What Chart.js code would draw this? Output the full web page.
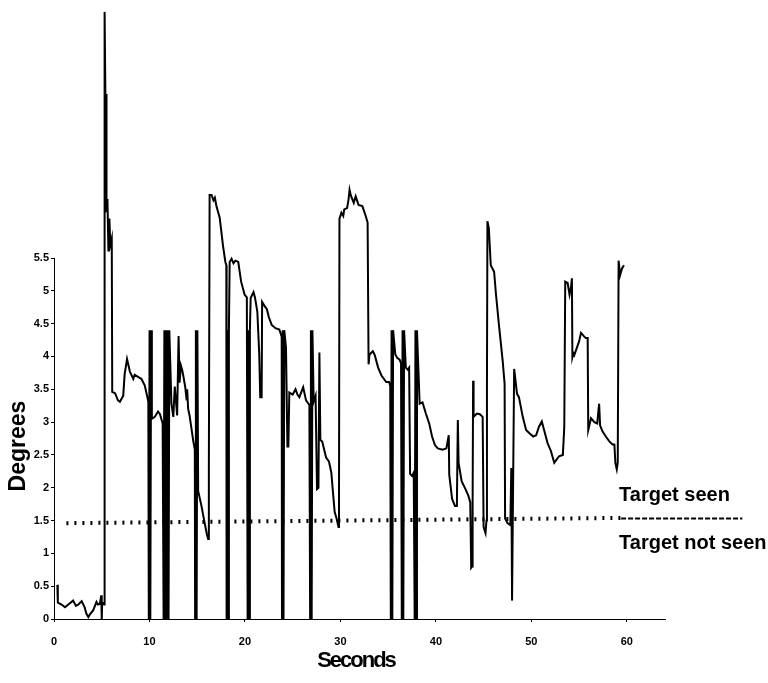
<!DOCTYPE html>
<html>
<head>
<meta charset="utf-8">
<title>Degrees vs Seconds</title>
<script src="https://cdn.jsdelivr.net/npm/chart.js@4.4.1/dist/chart.umd.min.js"></script>
<style>
  html, body { margin: 0; padding: 0; background: #fff; }
</style>
</head>
<body>
<canvas id="gazeChart" width="768" height="683"></canvas>
<script>
// Gaze trace
const seconds = [
  0.35, 0.4, 0.8, 1.15, 1.5, 2.0, 2.3, 2.55, 2.9, 3.2, 3.4, 3.6, 3.8, 4.1, 4.45, 4.6, 4.8, 4.95, 5.0, 5.05, 5.25,
  5.3, 5.4, 5.45, 5.5, 5.6, 5.7, 5.8, 5.9, 6.05, 6.1, 6.4, 6.7, 6.9, 7.25, 7.4, 7.65, 7.95, 8.3, 8.45, 8.8, 9.15, 9.5, 9.75, 9.88,
  9.93, 10.01, 10.09, 10.17, 10.25, 10.56, 10.9, 11.1, 11.38,
  11.48, 11.56, 11.64, 11.72, 11.8,
  11.84, 11.92, 12.0, 12.08, 12.3, 12.5, 12.65, 12.9, 13.05, 13.15, 13.3, 13.45, 13.6, 13.75, 13.9, 13.95, 14.05, 14.2, 14.4, 14.6, 14.75,
  14.78, 14.86, 14.94, 15.02, 15.1, 15.45, 15.8, 16.0, 16.15, 16.22, 16.3, 16.5, 16.7, 16.85, 17.0, 17.36, 17.7, 17.95, 18.05,
  18.08, 18.16, 18.24, 18.32, 18.4, 18.6, 18.8, 19.0, 19.3, 19.6, 19.97, 20.2,
  20.28, 20.36, 20.44, 20.52, 20.6, 20.9, 21.05, 21.3, 21.5, 21.6, 21.75, 21.8, 22.1, 22.3, 22.5, 22.8, 23.2, 23.6, 23.85,
  23.88, 23.96, 24.04, 24.12, 24.3, 24.45, 24.55, 24.65, 25.0, 25.3, 25.5, 25.7, 26.1, 26.4, 26.75,
  26.83, 26.91, 26.99, 27.07, 27.2, 27.4, 27.55, 27.7, 27.8, 27.9, 28.1, 28.5, 28.8, 29.05, 29.25, 29.4, 29.6, 29.8, 29.85,
  29.9, 30.1, 30.3, 30.4, 30.7, 30.85, 30.96, 31.1, 31.4, 31.6, 31.9, 32.3, 32.65, 32.85, 32.95, 33.05, 33.4, 33.6, 33.95, 34.3, 34.8, 35.1, 35.22,
  35.28, 35.36, 35.44, 35.52, 35.75, 35.95, 36.2, 36.35,
  36.43, 36.51, 36.59, 36.67, 36.85, 37.05, 37.2, 37.3, 37.5, 37.68,
  37.78, 37.86, 37.94, 38.02, 38.3, 38.6, 38.95, 39.3, 39.6, 39.9, 40.2, 40.7, 41.1, 41.35, 41.4, 41.7, 42.0, 42.2, 42.3, 42.38,
  42.7, 43.1, 43.4, 43.6, 43.7, 43.8, 43.85, 43.9, 43.95, 44.3, 44.6, 44.9, 45.0, 45.2, 45.3, 45.35, 45.4, 45.55, 45.75, 46.1,
  46.3, 46.6, 47.0, 47.2, 47.25, 47.5, 47.8, 47.9, 47.98, 48.1, 48.2, 48.5, 48.7, 49.1, 49.45, 49.8, 50.2, 50.5, 50.8, 51.1,
  51.3, 51.7, 52.05, 52.4, 52.6, 52.9, 53.3, 53.45, 53.55, 53.8, 54.0, 54.15, 54.25, 54.3, 54.4, 54.5, 55.0, 55.2, 55.5, 55.7,
  55.9, 55.96, 56.25, 56.6, 56.9, 57.1, 57.2, 57.45, 57.8, 58.15, 58.5, 58.7, 58.8, 58.95, 59.05, 59.14, 59.3, 59.5, 59.7
];
const degrees = [
  0.52, 0.25, 0.22, 0.18, 0.22, 0.28, 0.2, 0.22, 0.27, 0.18, 0.08, 0.03, 0.08, 0.13, 0.26, 0.22, 0.23, 0.36, 0.0, 0.25, 0.22,
  9.25, 7.7, 8.0, 6.2, 6.4, 5.6, 6.1, 5.7, 5.8, 3.46, 3.44, 3.33, 3.31, 3.4, 3.73, 3.96, 3.77, 3.66, 3.72, 3.69, 3.66, 3.56, 3.4, 3.31,
  0, 4.4, 0, 4.4, 3.05, 3.08, 3.16, 3.12, 2.98,
  0, 4.4, 0, 4.4, 2.9,
  0, 4.4, 0, 4.4, 3.28, 3.08, 3.54, 3.1, 4.31, 3.6, 3.86, 3.78, 3.66, 3.53, 3.33, 3.5, 3.2, 3.1, 2.9, 2.7, 2.58,
  0, 4.4, 0, 4.4, 1.95, 1.72, 1.45, 1.3, 1.22, 2.3, 6.46, 6.46, 6.38, 6.42, 6.3, 6.11, 5.69, 5.44, 5.39,
  0, 4.4, 0, 4.4, 5.44, 5.49, 5.42, 5.46, 5.44, 5.14, 4.94, 4.9,
  0, 4.4, 0, 4.4, 4.89, 4.98, 4.9, 4.68, 4.03, 3.38, 3.38, 4.83, 4.76, 4.72, 4.6, 4.48, 4.43, 4.41, 4.3,
  0, 4.4, 0, 4.4, 4.13, 2.63, 2.63, 3.45, 3.42, 3.5, 3.42, 3.38, 3.53, 3.33, 3.26,
  0, 4.4, 0, 4.4, 3.31, 3.4, 1.98, 2.0, 4.06, 2.73, 2.7, 2.46, 2.4, 2.23, 1.88, 1.63, 1.53, 1.4, 1.45,
  6.1, 6.19, 6.14, 6.24, 6.26, 6.39, 6.54, 6.45, 6.34, 6.44, 6.31, 6.29, 6.14, 6.04, 3.88, 4.03, 4.08, 4.02, 3.83, 3.71, 3.61, 3.61, 3.55,
  0, 4.4, 0, 4.4, 4.03, 3.98, 3.95, 3.9,
  0, 4.4, 0, 4.4, 3.83, 3.8, 3.83, 2.21, 2.18, 2.23,
  0, 4.4, 0, 4.4, 3.28, 3.3, 3.13, 2.98, 2.78, 2.65, 2.6, 2.58, 2.6, 2.8, 2.2, 1.83, 1.72, 1.72, 3.03, 2.38,
  2.1, 1.98, 1.88, 1.78, 0.78, 0.8, 1.8, 3.63, 3.08, 3.13, 3.12, 3.08, 1.4, 1.31, 1.5, 3.53, 6.06, 5.95, 5.39, 5.29,
  4.94, 4.49, 3.93, 3.58, 1.53, 1.46, 1.43, 2.3, 0.28, 2.23, 3.81, 3.43, 3.38, 3.08, 2.88, 2.83, 2.78, 2.8, 2.93, 3.01,
  2.9, 2.68, 2.56, 2.38, 2.42, 2.48, 2.5, 2.93, 5.14, 5.12, 4.94, 5.05, 5.19, 3.99, 4.05, 4.02, 4.23, 4.36, 4.31, 4.28,
  4.28, 2.88, 3.06, 3.0, 2.98, 3.28, 2.95, 2.86, 2.78, 2.71, 2.66, 2.66, 2.38, 2.28, 2.38, 5.46, 5.24, 5.34, 5.39
];

// Seen / not seen threshold
const thresholdSeconds = [1.3, 59.4];
const thresholdDegrees = [1.46, 1.54];
const legendSeconds = [59.4, 72.1];
const legendDegrees = [1.53, 1.53];

const xTicks = [0, 10, 20, 30, 40, 50, 60];
const yTicks = [0, 0.5, 1, 1.5, 2, 2.5, 3, 3.5, 4, 4.5, 5, 5.5];

const toPoints = (xs, ys) => xs.map((x, i) => ({ x: x, y: ys[i] }));

const tickFont = { family: "'Liberation Sans', Arial, sans-serif", size: 11, weight: "bold" };

// Axis titles, half-height y axis and the threshold labels
const labelsPlugin = {
  id: "labelsPlugin",
  afterDraw(chart) {
    const { ctx, chartArea, scales } = chart;
    const xs = scales.x;
    const ys = scales.y;
    ctx.save();
    ctx.strokeStyle = "#000";
    ctx.lineWidth = 1;
    ctx.beginPath();
    ctx.moveTo(chartArea.left + 0.5, ys.getPixelForValue(0));
    ctx.lineTo(chartArea.left + 0.5, ys.getPixelForValue(yTicks[yTicks.length - 1]));
    ctx.stroke();

    ctx.fillStyle = "#000";
    ctx.font = "bold 23px 'Liberation Sans', Arial, sans-serif";
    ctx.textAlign = "center";
    ctx.textBaseline = "middle";
    ctx.save();
    ctx.translate(19, 446);
    ctx.rotate(-Math.PI / 2);
    ctx.fillText("Degrees", 0, 0);
    ctx.restore();

    ctx.font = "bold 22px 'Liberation Sans', Arial, sans-serif";
    ctx.letterSpacing = "-2px";
    ctx.fillText("Seconds", 356, 661);
    ctx.letterSpacing = "0px";

    ctx.font = "bold 20px 'Liberation Sans', Arial, sans-serif";
    ctx.textAlign = "left";
    ctx.textBaseline = "alphabetic";
    const lx = xs.getPixelForValue(legendSeconds[0]) - 2;
    const ly = ys.getPixelForValue(legendDegrees[0]);
    ctx.fillText("Target seen", lx, ly - 18);
    ctx.fillText("Target not seen", lx, ly + 30);
    ctx.restore();
  }
};

const ctx = document.getElementById("gazeChart").getContext("2d");
const gazeChart = new Chart(ctx, {
  type: "line",
  data: {
    datasets: [
      {
        label: "Degrees",
        data: toPoints(seconds, degrees),
        borderColor: "#000",
        borderWidth: 2,
        pointRadius: 0,
        tension: 0,
      },
      {
        label: "Threshold",
        data: toPoints(thresholdSeconds, thresholdDegrees),
        borderColor: "#000",
        borderWidth: 4,
        borderDash: [2, 6],
        pointRadius: 0,
      },
      {
        label: "Threshold key",
        data: toPoints(legendSeconds, legendDegrees),
        borderColor: "#000",
        borderWidth: 2,
        borderDash: [5, 2],
        pointRadius: 0,
        clip: false,
      },
    ],
  },
  options: {
    responsive: false,
    animation: false,
    layout: { padding: { top: 0, right: 103, bottom: 0, left: 0 } },
    plugins: {
      legend: { display: false },
      tooltip: { enabled: false },
    },
    scales: {
      x: {
        type: "linear",
        min: 0,
        max: 64,
        afterBuildTicks: (scale) => {
          scale.ticks = xTicks.map((v) => ({ value: v }));
        },
        afterFit: (scale) => {
          scale.height = 64;
        },
        grid: { display: true, drawOnChartArea: false, tickLength: 3, color: "#000" },
        border: { display: true, color: "#000", width: 1 },
        ticks: { color: "#000", font: tickFont, padding: 13, maxRotation: 0, callback: (v) => String(v) },
      },
      y: {
        type: "linear",
        min: 0,
        max: 9.3,
        afterBuildTicks: (scale) => {
          scale.ticks = yTicks.map((v) => ({ value: v }));
        },
        afterFit: (scale) => {
          scale.width = 54;
        },
        grid: { display: true, drawOnChartArea: false, tickLength: 3, color: "#000" },
        border: { display: false },
        ticks: { color: "#000", font: tickFont, padding: 2, callback: (v) => String(v) },
      },
    },
  },
  plugins: [labelsPlugin],
});
</script>
</body>
</html>
